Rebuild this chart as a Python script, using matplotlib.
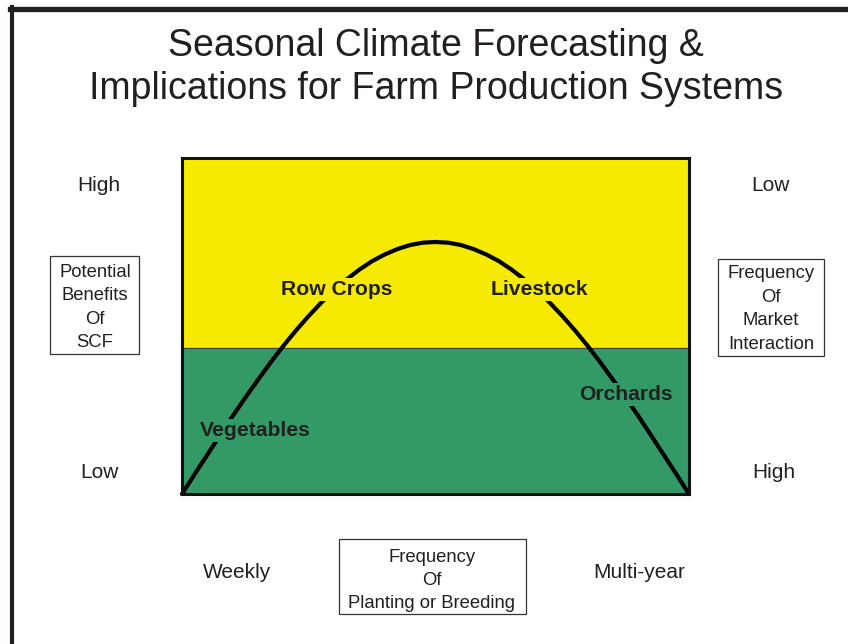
import matplotlib.pyplot as plt
from matplotlib.lines import Line2D
from matplotlib.patches import Rectangle


# Ausgabe
OUT_FILE = "out.png"
DPI = 100
W_PX, H_PX = 848, 644

# Farben
YELLOW = "#f5ea00"
GREEN = "#339966"
TEXT = "#231f20"

plt.rcParams["font.family"] = ["Liberation Sans", "DejaVu Sans"]

# Kurve (Skala 0-100 in beiden Richtungen)
curve_x = [0, 2.5, 5, 7.5, 10, 12.5, 15, 17.5, 20, 22.5, 25, 27.5, 30, 32.5, 35,
           37.5, 40, 42.5, 45, 47.5, 50, 52.5, 55, 57.5, 60, 62.5, 65, 67.5, 70,
           72.5, 75, 77.5, 80, 82.5, 85, 87.5, 90, 92.5, 95, 97.5, 100]
curve_y = [0, 5.9, 11.7, 17.5, 23.2, 28.7, 34.0, 39.2, 44.1, 48.7, 53.0, 57.0,
           60.7, 63.9, 66.8, 69.3, 71.3, 72.9, 74.1, 74.8, 75, 74.8, 74.1, 72.9,
           71.3, 69.3, 66.8, 63.9, 60.7, 57.0, 53.0, 48.7, 44.1, 39.2, 34.0, 28.7,
           23.2, 17.5, 11.7, 5.9, 0]

# Grenze gelb / gruen
split_level = 43.5

# Systeme im Diagramm
systems = ["Row Crops", "Livestock", "Orchards", "Vegetables"]
system_x = [30.5, 70.5, 87.5, 14.5]
system_y = [60.8, 60.8, 29.5, 19]

# Beschriftungen aussen
title_lines = ["Seasonal Climate Forecasting &", "Implications for Farm Production Systems"]
left_labels = ["High", "Low"]
right_labels = ["Low", "High"]
bottom_labels = ["Weekly", "Multi-year"]
y_axis_box = "Potential\nBenefits\nOf\nSCF"
y2_axis_box = "Frequency\nOf\nMarket\nInteraction"
x_axis_box = "Frequency\nOf\nPlanting or Breeding"


def fx(px):
    return px / W_PX


def fy(py):
    return 1 - py / H_PX


def boxed_text(fig, x, y, text, box):
    """Text mit Rahmen (box = links, oben, rechts, unten in Pixel)."""
    l, t, r, b = box
    fig.patches.append(Rectangle((fx(l), fy(b)), fx(r - l), (b - t) / H_PX,
                                 transform=fig.transFigure, fill=False,
                                 edgecolor="#333333", linewidth=0.9))
    fig.text(fx(x), fy(y), text, ha="center", va="center", fontsize=13.3,
             color=TEXT, linespacing=1.5)


def main():
    fig = plt.figure(figsize=(W_PX / DPI, H_PX / DPI), dpi=DPI)

    # Rahmen oben und links
    fig.add_artist(Line2D([fx(10), 1], [fy(8.5), fy(8.5)], color="#231f20",
                          linewidth=3.8, transform=fig.transFigure))
    fig.add_artist(Line2D([fx(12), fx(12)], [fy(6.5), 0], color="#231f20",
                          linewidth=3.0, transform=fig.transFigure))

    # Titel
    fig.text(fx(436), fy(46), title_lines[0], ha="center", va="center",
             fontsize=27, color=TEXT)
    fig.text(fx(436), fy(89), title_lines[1], ha="center", va="center",
             fontsize=27, color=TEXT)

    # Hauptfeld
    ax = fig.add_axes([fx(182), fy(494), fx(507), 336 / H_PX])
    ax.set_xlim(0, 100)
    ax.set_ylim(0, 100)
    ax.axhspan(split_level, 100, color=YELLOW, zorder=0)
    ax.axhspan(0, split_level, color=GREEN, zorder=0)
    ax.axhline(split_level, color="#333333", linewidth=0.6, zorder=1)
    ax.plot(curve_x, curve_y, color="black", linewidth=3.0,
            solid_capstyle="round", solid_joinstyle="round", zorder=2, clip_on=False)

    for name, x, y in zip(systems, system_x, system_y):
        bg = YELLOW if y > split_level else GREEN
        ax.text(x, y, name, ha="center", va="center", fontsize=15.2,
                fontweight="bold", color=TEXT, zorder=3,
                bbox=dict(facecolor=bg, edgecolor="none", pad=1.5))

    ax.set_xticks([])
    ax.set_yticks([])
    for spine in ax.spines.values():
        spine.set_linewidth(2.2)
        spine.set_color("#111111")

    # Hoch / Tief
    fig.text(fx(99), fy(185), left_labels[0], ha="center", va="center", fontsize=15, color=TEXT)
    fig.text(fx(99), fy(473), left_labels[1], ha="center", va="center", fontsize=15, color=TEXT)
    fig.text(fx(770), fy(185), right_labels[0], ha="center", va="center", fontsize=15, color=TEXT)
    fig.text(fx(774), fy(473), right_labels[1], ha="center", va="center", fontsize=15, color=TEXT)
    fig.text(fx(237), fy(573), bottom_labels[0], ha="center", va="center", fontsize=15, color=TEXT)
    fig.text(fx(639), fy(572), bottom_labels[1], ha="center", va="center", fontsize=15, color=TEXT)

    # Achsen-Boxen
    boxed_text(fig, 95, 307.5, y_axis_box, (50, 256, 139, 354))
    boxed_text(fig, 771, 309, y2_axis_box, (718, 259, 824, 356))
    boxed_text(fig, 432, 580.5, x_axis_box, (339, 539, 526, 614))

    fig.savefig(OUT_FILE, dpi=DPI)
    plt.close(fig)


if __name__ == "__main__":
    main()
